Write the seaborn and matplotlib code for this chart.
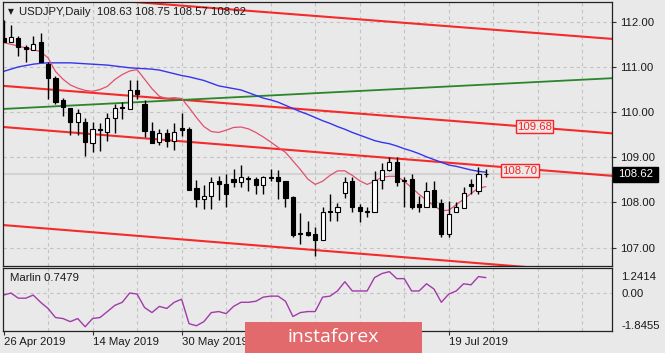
import numpy as np
import pandas as pd
import matplotlib
matplotlib.use("Agg")
import matplotlib.pyplot as plt
import matplotlib.transforms as mtransforms
from matplotlib.patches import Rectangle
import seaborn as sns

# ---------------- data ----------------
open_ = [111.65, 111.56, 111.65, 111.45, 111.38, 111.54, 111.07, 110.76, 110.26, 110.10,
         109.77, 109.79, 109.31, 109.62, 109.57, 109.86, 110.12, 110.06, 110.50, 110.17,
         109.59, 109.33, 109.53, 109.37, 109.64, 109.62, 108.31, 108.07, 108.14, 108.47,
         108.42, 108.53, 108.45, 108.53, 108.51, 108.38, 108.55, 108.56, 108.47, 108.12,
         107.30, 107.34, 107.30, 107.17, 107.82, 107.80, 108.22, 108.47, 107.91, 107.80,
         107.80, 108.49, 108.73, 108.89, 108.47, 108.51, 107.96, 107.91, 108.27, 107.98,
         107.30, 107.80, 107.87, 108.42, 108.25, 108.63]
high = [112.04, 111.93, 111.69, 111.49, 111.69, 111.74, 111.10, 110.79, 110.32, 110.10,
        110.06, 109.88, 109.79, 109.75, 109.99, 110.19, 110.23, 110.70, 110.72, 110.26,
        109.77, 109.62, 109.62, 109.75, 109.97, 109.66, 108.49, 108.38, 108.56, 108.58,
        108.64, 108.75, 108.82, 108.58, 108.56, 108.58, 108.75, 108.71, 108.47, 108.14,
        107.76, 107.58, 107.45, 107.89, 108.18, 107.98, 108.56, 108.56, 107.96, 107.89,
        108.69, 108.87, 109.00, 109.00, 108.56, 108.62, 108.14, 108.45, 108.47, 108.07,
        108.03, 108.00, 108.34, 108.51, 108.78, 108.75]
low = [111.54, 111.56, 111.25, 111.10, 111.38, 111.10, 110.28, 110.19, 109.92, 109.50,
       109.50, 109.02, 109.11, 109.15, 109.35, 109.53, 109.84, 110.06, 110.28, 109.46,
       109.31, 109.28, 109.22, 109.17, 109.48, 108.27, 107.89, 107.85, 107.85, 108.05,
       107.89, 108.34, 108.34, 108.25, 108.18, 108.18, 108.47, 108.07, 107.91, 107.23,
       107.08, 107.25, 106.81, 107.17, 107.58, 107.58, 108.11, 107.78, 107.56, 107.69,
       107.80, 108.29, 108.69, 108.36, 107.89, 107.85, 107.80, 107.89, 107.89, 107.23,
       107.23, 107.78, 107.87, 108.18, 108.18, 108.57]
close = [111.56, 111.67, 111.45, 111.40, 111.51, 111.10, 110.76, 110.23, 110.12, 109.79,
         109.97, 109.33, 109.62, 109.60, 109.86, 110.08, 110.08, 110.48, 110.39, 109.59,
         109.31, 109.53, 109.35, 109.57, 109.60, 108.27, 108.07, 108.14, 108.45, 108.40,
         108.18, 108.45, 108.56, 108.55, 108.38, 108.56, 108.56, 108.47, 108.11, 107.28,
         107.32, 107.28, 107.17, 107.78, 107.78, 107.91, 108.45, 107.89, 107.82, 107.81,
         108.49, 108.73, 108.89, 108.45, 108.49, 107.91, 107.89, 108.25, 107.91, 107.30,
         107.74, 107.89, 108.22, 108.36, 108.62, 108.62]
ma_fast = [111.54, 111.50, 111.46, 111.42, 111.38, 111.34, 111.20, 110.90, 110.73, 110.60,
           110.53, 110.48, 110.46, 110.50, 110.57, 110.72, 110.83, 110.91, 110.94, 110.73,
           110.52, 110.35, 110.30, 110.32, 110.30, 110.10, 109.88, 109.68, 109.57, 109.55,
           109.60, 109.66, 109.67, 109.63, 109.55, 109.45, 109.34, 109.22, 109.11, 108.92,
           108.73, 108.52, 108.40, 108.47, 108.60, 108.70, 108.70, 108.60, 108.48, 108.40,
           108.47, 108.56, 108.58, 108.58, 108.47, 108.33, 108.18, 108.05, 107.93, 107.82,
           107.83, 107.95, 108.07, 108.20, 108.32, 108.35]
ma_slow = [110.90, 110.95, 111.00, 111.03, 111.06, 111.08, 111.09, 111.09, 111.09, 111.09,
           111.08, 111.07, 111.06, 111.05, 111.04, 111.02, 111.00, 110.98, 110.97, 110.96,
           110.95, 110.93, 110.89, 110.85, 110.81, 110.78, 110.74, 110.70, 110.64, 110.58,
           110.55, 110.52, 110.49, 110.43, 110.37, 110.31, 110.27, 110.22, 110.15, 110.08,
           110.01, 109.95, 109.88, 109.81, 109.75, 109.68, 109.62, 109.55, 109.49, 109.43,
           109.37, 109.33, 109.30, 109.25, 109.19, 109.14, 109.08, 109.01, 108.95, 108.89,
           108.83, 108.80, 108.76, 108.72, 108.69, 108.67]
marlin = [-0.10, 0.00, -0.25, -0.25, -0.10, -0.45, -0.75, -1.19, -1.24, -1.39,
          -1.24, -1.64, -1.24, -1.19, -0.90, -0.60, -0.45, 0.00, -0.05, -0.70,
          -0.95, -0.65, -0.75, -0.45, -0.30, -1.49, -1.59, -1.39, -0.95, -0.90,
          -1.00, -0.65, -0.45, -0.45, -0.40, -0.20, -0.15, -0.15, -0.40, -1.14,
          -0.95, -0.90, -0.90, -0.20, -0.15, 0.10, 0.55, 0.10, 0.10, 0.10,
          0.75, 0.95, 1.04, 0.70, 0.70, 0.10, 0.10, 0.45, 0.20, -0.45,
          -0.05, 0.10, 0.45, 0.40, 0.80, 0.75]

# visible date labels (the ones under the logo are hidden in the reference)
date_tick_idx = [0, 12, 24, 60]
date_tick_labels = ["26 Apr 2019", "14 May 2019", "30 May 2019", "19 Jul 2019"]
price_ticks = [107, 108, 109, 110, 111, 112]

channel_x = [0, 82]
channel_top = [112.66, 111.62]
channel_upper_mid = [110.58, 109.53]
channel_lower_mid = [109.67, 108.59]
channel_bottom = [107.50, 106.42]
green_line = [110.07, 110.75]

level_a = 109.68
level_b = 108.70
last_price = 108.62
marlin_last = 0.7479
marlin_max, marlin_min = 1.2414, -1.8455
title_text = "USDJPY,Daily  108.63 108.75 108.57 108.62"

# ---------------- style ----------------
BG = "#e9e9e9"
sns.set_style("white", {"axes.facecolor": BG, "figure.facecolor": BG})
plt.rcParams["font.family"] = ["Liberation Sans", "DejaVu Sans"]
FS = 8.2
TXT = "#1a1a1a"

W, H = 665, 353
fig = plt.figure(figsize=(W / 100, H / 100), dpi=100, facecolor=BG)
left_px, right_px = 2.7, 612
ax = fig.add_axes([left_px / W, 1 - 265.5 / H, (right_px - left_px) / W, (265.5 - 2) / H])
ax2 = fig.add_axes([left_px / W, 1 - 331 / H, (right_px - left_px) / W, (331 - 267.5) / H])

n = len(close)
idx = np.arange(n)
xlim = (-0.11, 82.0)
grid_kw = dict(color="#c2c2c2", lw=0.8, ls=(0, (3, 3)), zorder=0)

# ---------- main panel ----------
ax.set_facecolor(BG)
ax.set_xlim(*xlim)
ax.set_ylim(106.606, 112.436)
for gx in range(6, 82, 6):
    ax.axvline(gx, **grid_kw)
for gy in price_ticks:
    ax.axhline(gy, **grid_kw)

# current price line
ax.axhline(last_price, color="#d2d2d2", lw=1.5, zorder=0.5)

# channel / trend lines
for vals in (channel_top, channel_upper_mid, channel_lower_mid, channel_bottom):
    ax.plot(channel_x, vals, color="#f52a2a", lw=1.5, zorder=1)
ax.plot(channel_x, green_line, color="#2b862b", lw=1.3, zorder=1)

# moving averages
sns.lineplot(x=idx, y=ma_slow, ax=ax, color="#3535f0", linewidth=1.0,
             legend=False, errorbar=None, sort=False, zorder=2)
sns.lineplot(x=idx, y=ma_fast, ax=ax, color="#e0506e", linewidth=0.9,
             legend=False, errorbar=None, sort=False, zorder=2)

# candles
o = np.array(open_); c = np.array(close); hi = np.array(high); lo = np.array(low)
ax.vlines(idx, lo, hi, color="black", lw=1.0, zorder=3)
up = c >= o
body_h = np.maximum(np.abs(c - o), 0.004)
ax.bar(idx, body_h, bottom=np.minimum(o, c), width=0.56,
       color=np.where(up, "white", "black"), edgecolor="black", linewidth=0.8, zorder=4)

# level labels
for lvl, xi in ((level_a, 71.56), (level_b, 69.6)):
    ax.text(xi, lvl, f"{lvl:.2f}", color="#ff2020", fontsize=FS, ha="center", va="center",
            zorder=6, bbox=dict(boxstyle="square,pad=0.12", fc=BG, ec="#ff2020", lw=1.0))

ax.yaxis.tick_right()
ax.set_yticks(price_ticks)
ax.set_yticklabels([f"{p:.2f}" for p in price_ticks])
ax.tick_params(axis="y", right=True, left=False, length=3, width=0.8, direction="out",
               pad=2.5, labelsize=FS, labelcolor=TXT, color="#333333")
ax.set_xticks([])
ax.set_xlabel(""); ax.set_ylabel("")
for s in ax.spines.values():
    s.set_color("#222222"); s.set_linewidth(0.9); s.set_visible(True)

# last price box
trans = mtransforms.blended_transform_factory(ax.transAxes, ax.transData)
box_w = 45 / (right_px - left_px)
half_h = 7.5 / 45.2
ax.add_patch(Rectangle((1.0015, last_price - half_h), box_w, 2 * half_h, transform=trans,
                       fc="black", ec="black", clip_on=False, zorder=10))
ax.text(1.0015 + box_w / 2, last_price, f"{last_price:.2f}", transform=trans, color="white",
        fontsize=FS, ha="center", va="center", zorder=11, clip_on=False)

# title
fig.text(10.5 / W, 1 - 11.5 / H, "▼", family="DejaVu Sans", fontsize=5.5, color=TXT,
         ha="center", va="center")
fig.text(19 / W, 1 - 12 / H, title_text, fontsize=FS, color=TXT, ha="left", va="center")

# ---------- indicator panel ----------
ax2.set_facecolor(BG)
ax2.set_xlim(*xlim)
ax2.set_ylim(marlin_min, marlin_max)
for gx in range(6, 82, 6):
    ax2.axvline(gx, **grid_kw)
ax2.axhline(0, **grid_kw)
sns.lineplot(x=idx, y=marlin, ax=ax2, color="#a23aa8", linewidth=1.0,
             legend=False, errorbar=None, sort=False, zorder=2)
ax2.text(7 / (right_px - left_px), 0.835, f"Marlin {marlin_last:.4f}", transform=ax2.transAxes,
         fontsize=FS, color=TXT, ha="left", va="center")
ax2.yaxis.tick_right()
ax2.set_yticks([0.83, 0.0, -1.56])
ax2.set_yticklabels([f"{marlin_max:.4f}", "0.00", f"{marlin_min:.4f}"])
ax2.tick_params(axis="y", right=True, left=False, length=0, pad=6.5, labelsize=FS,
                labelcolor=TXT)
ax2.set_xticks(date_tick_idx)
ax2.set_xticklabels(date_tick_labels, ha="left")
ax2.tick_params(axis="x", bottom=True, length=3, width=0.8, direction="out", pad=1.5,
                labelsize=FS, labelcolor=TXT, color="#333333")
ax2.set_xlabel(""); ax2.set_ylabel("")
for s in ax2.spines.values():
    s.set_color("#222222"); s.set_linewidth(0.9); s.set_visible(True)

# ---------- logo ----------
fig.add_artist(Rectangle((245 / W, 0), 177 / W, 31 / H, transform=fig.transFigure,
                         fc="#e26a6c", ec="none", zorder=20))
fig.text(333 / W, 1 - 337 / H, "instaforex", family=["Open Sans", "DejaVu Sans"],
         fontsize=14, color="white", ha="center", va="center", zorder=21)

fig.savefig("out.png", dpi=100, facecolor=BG)
